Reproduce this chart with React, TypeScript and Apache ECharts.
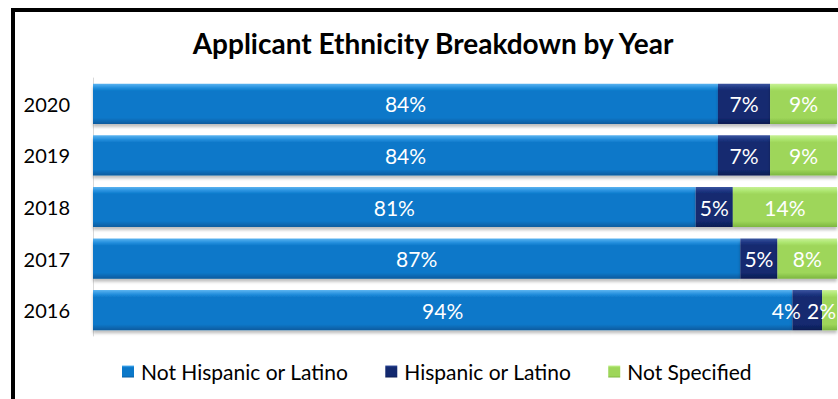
import React, { useEffect, useRef } from "react";
import * as echarts from "echarts";

const years = ["2016", "2017", "2018", "2019", "2020"];
const notHispanic = [94, 87, 81, 84, 84];
const hispanic = [4, 5, 5, 7, 7];
const notSpecified = [2, 8, 14, 9, 9];
const seriesNames = ["Not Hispanic or Latino", "Hispanic or Latino", "Not Specified"];
const title = "Applicant Ethnicity Breakdown by Year";

const FONT = "Lato, 'Open Sans', sans-serif";

function grad(top: string, hi: string, body: string, low: string) {
  return new echarts.graphic.LinearGradient(0, 0, 0, 1, [
    { offset: 0, color: top },
    { offset: 0.1, color: hi },
    { offset: 0.18, color: body },
    { offset: 0.85, color: body },
    { offset: 1, color: low },
  ]);
}

export default function App() {
  const ref = useRef<HTMLDivElement>(null);
  useEffect(() => {
    if (!ref.current) return;
    const chart = echarts.init(ref.current, undefined, { renderer: "svg" });
    const colors = ["#0b78c9", "#13296f", "#9ed65a"];
    const fills = [
      grad("#5cb4f0", "#2590de", "#0b78c9", "#085b9e"),
      grad("#3a55a0", "#1e3682", "#13296f", "#0c1c52"),
      grad("#c8f096", "#ade670", "#9ed65a", "#7cb640"),
    ];
    const labelOffsets: Record<string, [number, number]> = {
      "1-0": [-21, 0],
      "2-0": [-8, 0],
    };
    const values = [notHispanic, hispanic, notSpecified];
    const series = values.map((arr, si) => ({
      name: seriesNames[si],
      type: "bar",
      stack: "total",
      barWidth: "78%",
      itemStyle: {
        color: fills[si],
        shadowColor: "rgba(0,0,0,0.25)",
        shadowBlur: 3,
        shadowOffsetY: 3,
      },
      label: {
        show: true,
        position: "inside",
        color: "#ffffff",
        fontFamily: FONT,
        fontSize: 21,
        formatter: "{c}%",
      },
      data: arr.map((v, i) => {
        const off = labelOffsets[`${si}-${i}`];
        return off ? { value: v, label: { offset: off } } : v;
      }),
    }));
    chart.setOption({
      animation: false,
      color: colors,
      title: {
        text: title,
        left: 428,
        textAlign: "center",
        top: 24,
        textStyle: { fontFamily: FONT, fontWeight: "bold", fontSize: 28, color: "#000" },
      },
      grid: { left: 93, right: 1, top: 78, bottom: 63 },
      xAxis: { type: "value", min: 0, max: 100, show: false },
      yAxis: {
        type: "category",
        data: years,
        axisLine: { show: true, lineStyle: { color: "#d9d9d9", width: 1 } },
        axisTick: { show: false },
        axisLabel: { margin: 23, fontFamily: FONT, fontSize: 20, color: "#000" },
      },
      legend: {
        data: seriesNames,
        bottom: 12,
        left: 117,
        itemWidth: 12,
        itemHeight: 12,
        itemGap: 37,
        icon: "rect",
        textStyle: { fontFamily: FONT, fontSize: 21, color: "#000", padding: [0, 0, 0, 2] },
      },
      graphic: [
        { type: "rect", shape: { x: 11, y: 8, width: 4, height: 400 }, style: { fill: "#000" } },
        { type: "rect", shape: { x: 11, y: 8, width: 840, height: 4 }, style: { fill: "#000" } },
      ],
      series,
    });
    return () => chart.dispose();
  }, []);
  return (
    <div
      ref={ref}
      style={{ position: "fixed", left: 0, top: 0, width: 838, height: 399, background: "#fff" }}
    />
  );
}
